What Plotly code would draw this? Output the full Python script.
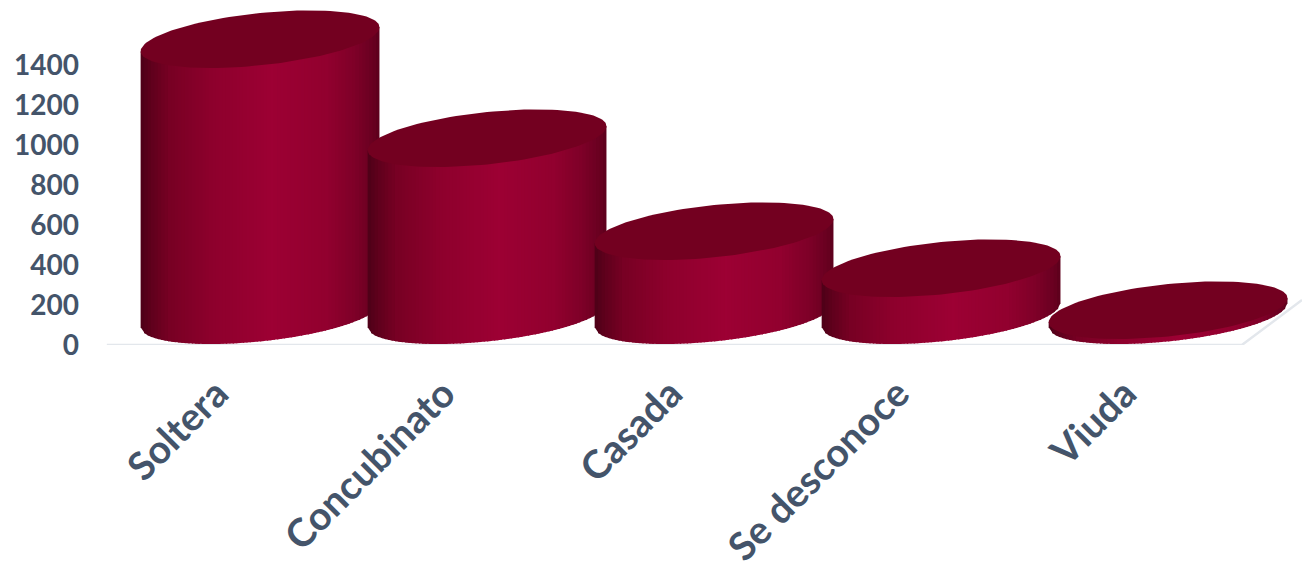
import numpy as np
import plotly.graph_objects as go

categories = ["Soltera", "Concubinato", "Casada", "Se desconoce", "Viuda"]
values = [1380, 885, 420, 235, 25]
y_ticks = [0, 200, 400, 600, 800, 1000, 1200, 1400]

# Cylinder look: oblique projection, expressed in axis units
HALF_W = 0.526
TILT = 60
DEPTH = 131
BASE = 149
N_STRIPS = 70
TOP_COLOR = "#730020"
TEXT = "#44546a"
FLOOR = "#e3e7ec"

shade_pos = [0, 0.04, 0.12, 0.3, 0.55, 0.78, 0.9, 0.97, 1]
shade_r = [0x4e, 0x5e, 0x78, 0x8e, 0x9d, 0x92, 0x7e, 0x6a, 0x5c]
shade_b = [0x18, 0x1c, 0x24, 0x2d, 0x34, 0x2f, 0x28, 0x21, 0x1c]


def shade(s):
    return "rgb(%d,0,%d)" % (np.interp(s, shade_pos, shade_r), np.interp(s, shade_pos, shade_b))


fig = go.Figure()

floor_x = [-0.675, 4.325, 4.59]
floor_y = [0, 0, 225]
fig.add_trace(go.Scatter(x=floor_x, y=floor_y, mode="lines", line=dict(color=FLOOR, width=2.5),
                         hoverinfo="skip", showlegend=False))

edges = np.linspace(-1, 1, N_STRIPS + 1)
theta = np.linspace(0, 2 * np.pi, 121)
for i, (name, v) in enumerate(zip(categories, values)):
    for a, b in zip(edges[:-1], edges[1:]):
        us = np.array([a, min(b + 0.01, 1)])
        lo = BASE + TILT * us - DEPTH * np.sqrt(np.clip(1 - us ** 2, 0, 1))
        hi = BASE + v + TILT * us
        xs = i + HALF_W * us
        fig.add_trace(go.Scatter(
            x=[xs[0], xs[1], xs[1], xs[0], xs[0]],
            y=[lo[0], lo[1], hi[1], hi[0], lo[0]],
            mode="lines", line=dict(width=0), fill="toself",
            fillcolor=shade((a + b + 2) / 4), hoverinfo="skip", showlegend=False))
    fig.add_trace(go.Scatter(
        x=i + HALF_W * np.cos(theta),
        y=BASE + v + TILT * np.cos(theta) + DEPTH * np.sin(theta),
        mode="lines", line=dict(width=0), fill="toself", fillcolor=TOP_COLOR,
        name=name, hovertemplate=name + ": %d<extra></extra>" % v, showlegend=False))

fig.update_layout(
    width=1302, height=569, autosize=False,
    margin=dict(l=105, r=0, t=0, b=224),
    paper_bgcolor="white", plot_bgcolor="white", showlegend=False,
    font=dict(family="Lato", color=TEXT),
    xaxis=dict(range=[-0.683, 4.59], showgrid=False, zeroline=False, showline=False, automargin=False,
               tickmode="array", tickvals=[i - 0.19 for i in range(len(categories))],
               ticktext=categories, tickangle=-45, ticks="", ticklabelstandoff=17,
               tickfont=dict(family="Lato", size=39, color=TEXT, weight=700)),
    yaxis=dict(range=[0, 1725], showgrid=False, zeroline=False, showline=False, automargin=False,
               tickmode="array", tickvals=y_ticks, ticks="", ticklabelstandoff=25,
               tickfont=dict(family="Lato", size=28, color=TEXT, weight=700)),
)
fig.write_html("out.html", config=dict(displayModeBar=False),
               post_script="document.body.style.margin='0';document.documentElement.style.overflow='hidden';")
